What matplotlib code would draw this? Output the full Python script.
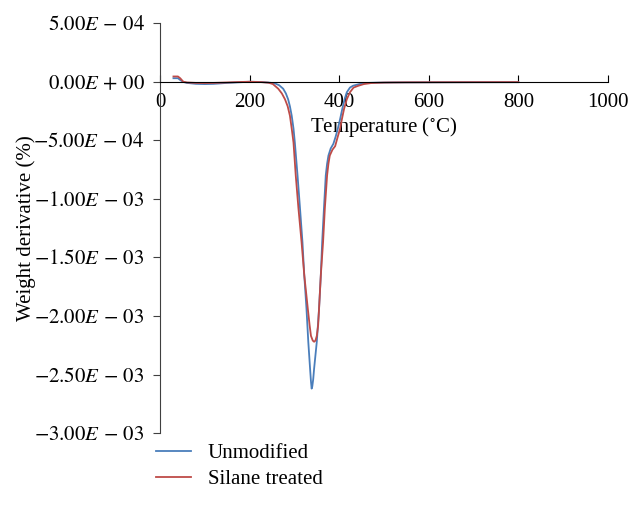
import matplotlib
matplotlib.use("Agg")
import matplotlib.pyplot as plt

# temperature (C) and weight derivative (x1e-3 %)
temp_unmod = [30, 40, 45, 52, 60, 80, 100, 120, 150, 180, 200, 225, 245, 257,
              266, 275, 281, 286, 290, 294, 298, 301, 307, 312.5, 318, 322, 327,
              331, 335, 337, 338.5, 340, 342, 344, 350, 355, 359, 362, 366, 370,
              373, 376, 381, 387, 392, 397, 402, 407, 412, 417, 424, 431, 445,
              458, 480, 520, 600, 700, 800]
deriv_unmod = [0.03, 0.03, 0.015, -0.002, -0.01, -0.018, -0.02, -0.018, -0.01,
               -0.004, 0.0, -0.002, -0.008, -0.015, -0.03, -0.06, -0.10, -0.15,
               -0.21, -0.29, -0.40, -0.52, -0.80, -1.08, -1.37, -1.65, -1.94,
               -2.22, -2.45, -2.56, -2.62, -2.60, -2.54, -2.45, -2.22, -1.94,
               -1.65, -1.37, -1.08, -0.80, -0.70, -0.63, -0.57, -0.53, -0.47,
               -0.40, -0.32, -0.23, -0.15, -0.09, -0.05, -0.034, -0.02, -0.011,
               -0.008, -0.006, -0.005, -0.004, -0.004]

temp_silane = [30, 40, 45, 52, 60, 80, 100, 120, 150, 180, 200, 225, 242, 252,
               264, 272, 279, 285, 290, 294, 298, 303, 309, 316, 322, 330, 334,
               337, 341, 344, 347, 350, 353, 355, 359, 364, 368, 373, 376, 379,
               385, 391, 396, 402, 406, 411, 417, 424, 432, 443, 455, 472, 500,
               550, 650, 800]
deriv_silane = [0.045, 0.045, 0.03, 0.0, -0.006, -0.01, -0.011, -0.01, -0.006,
                -0.002, 0.0, -0.003, -0.008, -0.02, -0.06, -0.10, -0.15, -0.21,
                -0.29, -0.40, -0.52, -0.80, -1.08, -1.37, -1.65, -1.94, -2.08,
                -2.17, -2.21, -2.22, -2.21, -2.17, -2.08, -1.94, -1.65, -1.37,
                -1.08, -0.80, -0.70, -0.63, -0.58, -0.55, -0.48, -0.40, -0.32,
                -0.23, -0.15, -0.09, -0.05, -0.034, -0.02, -0.011, -0.007,
                -0.005, -0.004, -0.003]

x_ticks = [0, 200, 400, 600, 800, 1000]
y_ticks = [5e-4, 0, -5e-4, -1e-3, -1.5e-3, -2e-3, -2.5e-3, -3e-3]
y_labels = ["$5.00E\\,-\\,04$", "$0.00E\\,+\\,00$", "$-5.00E\\,-\\,04$",
            "$-1.00E\\,-\\,03$", "$-1.50E\\,-\\,03$", "$-2.00E\\,-\\,03$",
            "$-2.50E\\,-\\,03$", "$-3.00E\\,-\\,03$"]

plt.rcParams["font.family"] = ["Liberation Serif", "DejaVu Serif"]
plt.rcParams["mathtext.fontset"] = "stix"
plt.rcParams["font.size"] = 15

fig = plt.figure(figsize=(6.3, 5.15), dpi=100)
ax = fig.add_axes([0.254, 0.159, 0.711, 0.796])

ax.plot(temp_unmod, [v * 1e-3 for v in deriv_unmod], color="#4a7ebb", lw=1.3,
        label="Unmodified")
ax.plot(temp_silane, [v * 1e-3 for v in deriv_silane], color="#be4b48", lw=1.3,
        label="Silane treated")

ax.set_xlim(0, 1000)
ax.set_ylim(-3e-3, 5e-4)
ax.set_xticks(x_ticks)
ax.set_yticks(y_ticks)
ax.set_yticklabels(y_labels)

ax.spines["top"].set_visible(False)
ax.spines["right"].set_visible(False)
ax.spines["bottom"].set_position(("data", 0))
ax.spines["left"].set_color("#404040")
ax.tick_params(axis="x", direction="in", length=5, pad=8)
ax.tick_params(axis="y", direction="out", length=5, color="#404040", pad=6)

ax.set_xlabel("Temperature ($^{\\circ}$C)", labelpad=2)
ax.set_ylabel("Weight derivative (%)", labelpad=-2)

fig.legend(loc="upper left", bbox_to_anchor=(0.234, 0.155), frameon=False,
           handlelength=1.7, handletextpad=0.8, labelspacing=0.3,
           borderaxespad=0)

fig.savefig("out.png", dpi=100)
